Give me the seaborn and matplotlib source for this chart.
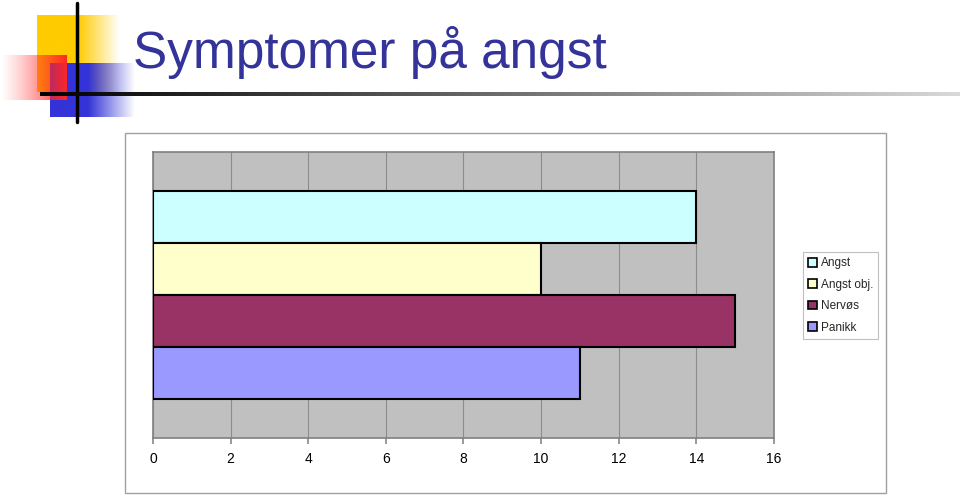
import numpy as np
import pandas as pd
import matplotlib
matplotlib.use("Agg")
import matplotlib.pyplot as plt
import seaborn as sns
from matplotlib.patches import Rectangle, Patch

# ---- data ----
series = ["Angst", "Angst obj.", "Nervøs", "Panikk"]
values = [14, 10, 15, 11]
colors = ["#CCFFFF", "#FFFFCC", "#993366", "#9999FF"]
xticks = [0, 2, 4, 6, 8, 10, 12, 14, 16]
title = "Symptomer på angst"

sns.set_theme(style="white")
plt.rcParams["font.family"] = ["Liberation Sans", "DejaVu Sans"]

W, H = 960, 495
fig = plt.figure(figsize=(9.6, 4.95), dpi=100)
fig.patch.set_facecolor("white")

# ---- decoration layer (figure pixel coordinates) ----
deco = fig.add_axes([0, 0, 1, 1], zorder=0)
deco.set_xlim(0, W)
deco.set_ylim(H, 0)
deco.axis("off")

def grad_rect(ax, x0, x1, y0, y1, rgb, fade_start=0.5, z=1):
    n = 200
    t = np.linspace(0, 1, n)
    alpha = np.where(t < fade_start, 1.0, np.clip(1 - (t - fade_start) / (1 - fade_start), 0, 1))
    img = np.zeros((1, n, 4))
    img[0, :, :3] = rgb
    img[0, :, 3] = alpha
    ax.imshow(img, extent=(x0, x1, y1, y0), aspect="auto", interpolation="bilinear", zorder=z)

grad_rect(deco, 37, 120, 15, 92, (1.0, 0.80, 0.0), fade_start=0.5)
grad_rect(deco, 50, 135, 63, 117, (0.2, 0.2, 0.85), fade_start=0.45, z=2)
# red square fades from right to left
n = 200
img = np.zeros((1, n, 4))
img[0, :, :3] = (1.0, 0.15, 0.15)
img[0, :, 3] = np.linspace(0.05, 1.0, n) ** 1.3
deco.imshow(img, extent=(3, 67, 100, 55), aspect="auto", interpolation="bilinear", zorder=3)
# vertical line
deco.plot([77, 77], [3, 122], color="black", lw=2.5, zorder=4)
# horizontal gradient line
img = np.zeros((1, n, 4))
g = np.linspace(0.0, 0.85, n)
img[0, :, 0] = g
img[0, :, 1] = g
img[0, :, 2] = g
img[0, :, 3] = 1.0
deco.imshow(img, extent=(40, 960, 96, 92), aspect="auto", interpolation="bilinear", zorder=4)
deco.set_xlim(0, W)
deco.set_ylim(H, 0)

fig.text(133 / W, 1 - 68 / H, title, color="#333399", fontsize=37,
         ha="left", va="baseline", zorder=5)

# outer chart border
fig.patches.append(Rectangle((125 / W, 1 - 493 / H), (886 - 125) / W, (493 - 133) / H,
                             transform=fig.transFigure, fill=False,
                             edgecolor="#A0A0A0", lw=1.0, zorder=1))

# ---- chart ----
ax = fig.add_axes([153 / W, 1 - 438 / H, (774 - 153) / W, (438 - 152) / H], zorder=2)
df = pd.DataFrame({"series": series, "value": values})
sns.barplot(data=df, y="series", x="value", hue="series", palette=colors,
            orient="h", width=1.0, dodge=False, legend=False, ax=ax, saturation=1,
            edgecolor="black", linewidth=1.5, zorder=3)
ax.set_facecolor("#C0C0C0")
ax.set_xlim(0, 16)
ax.set_ylim(4.25, -1.25)
ax.set_xticks(xticks)
ax.set_xticklabels([str(v) for v in xticks], fontsize=10, color="black")
ax.set_yticks([])
ax.set_xlabel("")
ax.set_ylabel("")
ax.xaxis.grid(True, color="#8C8C8C", lw=0.8)
ax.set_axisbelow(True)
ax.tick_params(axis="x", bottom=True, length=4, color="#8C8C8C", pad=6)
for side in ["top", "right", "bottom", "left"]:
    ax.spines[side].set_visible(True)
    ax.spines[side].set_color("#808080")
    ax.spines[side].set_linewidth(1.2)

handles = [Patch(facecolor=c, edgecolor="black", lw=1.2) for c in colors]
leg = fig.legend(handles, series, loc="upper left",
                 bbox_to_anchor=(803 / W, 1 - 252 / H), bbox_transform=fig.transFigure,
                 fontsize=8.5, frameon=True, fancybox=False, borderpad=0.45,
                 handlelength=0.75, handleheight=0.75, handletextpad=0.3,
                 labelspacing=0.8, borderaxespad=0)
leg.get_frame().set_edgecolor("#B0B0B0")
leg.get_frame().set_linewidth(0.8)

fig.savefig("out.png", dpi=100)
